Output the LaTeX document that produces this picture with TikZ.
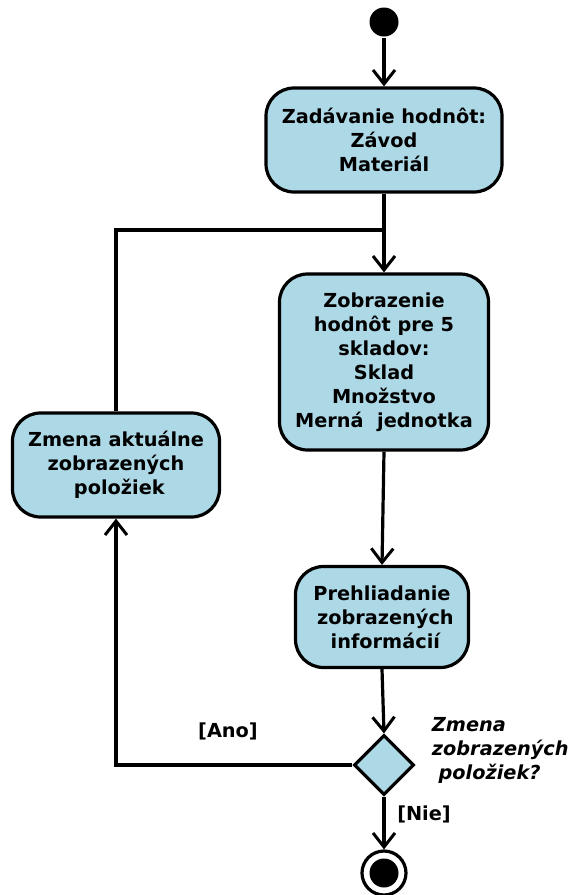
\documentclass[tikz,border=0pt]{standalone}
\usepackage{fontspec}
\setmainfont{DejaVu Sans}
\usepackage{tikz}
\usetikzlibrary{shapes.geometric}
\usetikzlibrary{arrows.meta}
\definecolor{akcia}{RGB}{173,216,230}

\begin{document}
\begin{tikzpicture}[x=1pt,y=-1pt,line width=3.2pt,
  akt/.style={draw,fill=akcia,rounded corners=28pt,align=center,inner sep=0pt,
    font=\fontsize{19.3}{24}\selectfont\bfseries},
  sip/.style={-{Straight Barb[length=14pt,width=22pt,line width=3pt]}},
  popis/.style={font=\fontsize{19.3}{24}\selectfont\bfseries}]
\useasboundingbox (0,0) rectangle (571,895);
\node [circle,fill=black,inner sep=0pt,minimum size=29pt] (start) at (384,22) {};
\node [akt,minimum width=236pt,minimum height=104pt] (zadanie) at (384,140) {Zadávanie hodnôt:\\Závod\\Materiál};
\node [akt,minimum width=209pt,minimum height=176pt] (zobrazenie) at (384,362) {Zobrazenie\\hodnôt pre 5\\skladov:\\Sklad\\Množstvo\\Merná\ \ jednotka};
\node [akt,minimum width=207pt,minimum height=104pt] (zmena) at (116,465) {Zmena aktuálne\\zobrazených\\\mbox{}\ položiek};
\node [akt,minimum width=173pt,minimum height=101pt] (prehliadanie) at (382,617) {Prehliadanie\\\mbox{}\ zobrazených\\\mbox{}\ informácií};
\node [diamond,draw,fill=akcia,inner sep=0pt,minimum width=60pt,minimum height=60pt] (rozhod) at (384,765) {};
\node [circle,draw,fill=white,inner sep=0pt,minimum size=44pt] (koniec) at (384,873) {};
\node [circle,fill=black,inner sep=0pt,minimum size=29pt] at (koniec) {};
\coordinate (spoj) at (384,230);
% popisy
\node [popis,align=left,anchor=north west] (otazka) at (427,712) {\itshape Zmena\\\itshape zobrazených\\\itshape\ položiek?};
\node [popis] (ano) at (228,731) {[Ano]};
\node [popis] (nie) at (424,814) {[Nie]};
% prechody
\draw [sip] (start) -- (zadanie.north);
\draw [sip] (zadanie.south) -- (zobrazenie.north);
\draw (zmena.north) |- (spoj);
\draw [sip] (zobrazenie.south) -- (prehliadanie.north);
\draw [sip] (prehliadanie.south) -- (rozhod.north);
\draw [sip] (rozhod.west) -| (zmena.south);
\draw [sip] (rozhod.south) -- (koniec.north);
\end{tikzpicture}
\end{document}
